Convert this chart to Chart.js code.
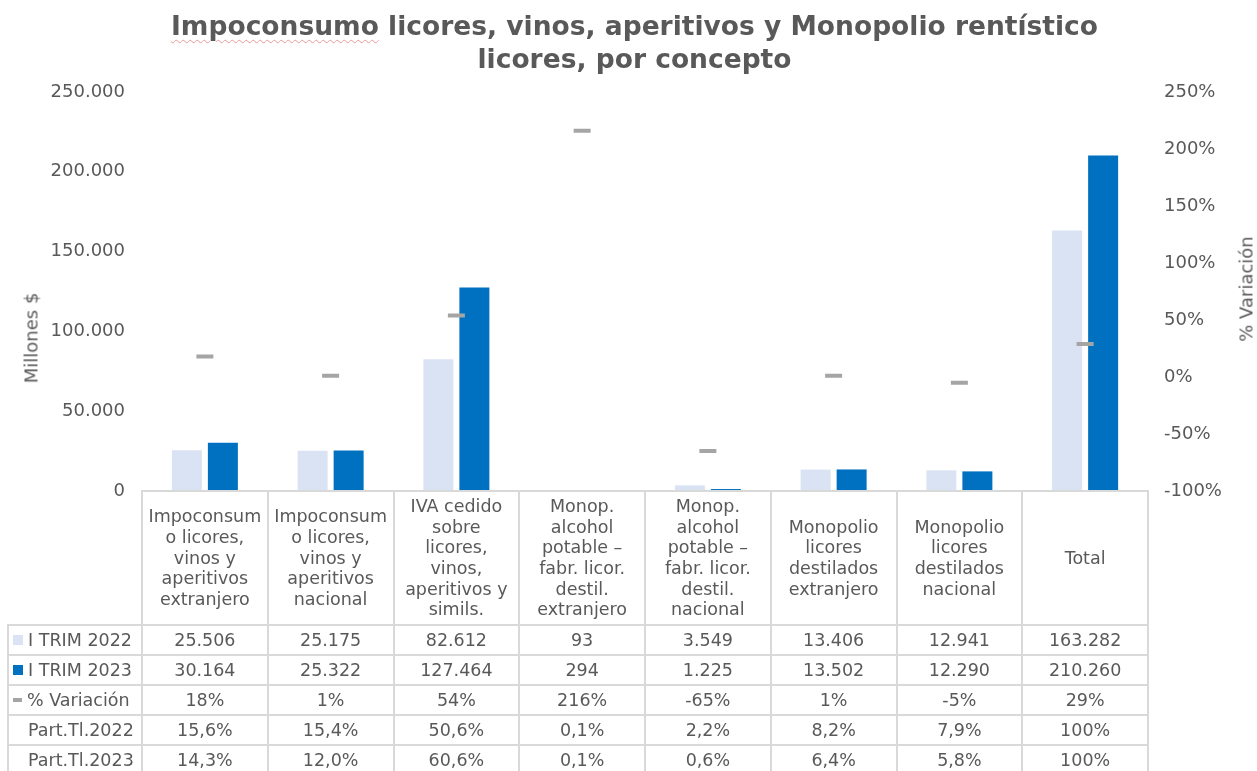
<!DOCTYPE html>
<html>
<head>
<meta charset="utf-8">
<script src="https://cdn.jsdelivr.net/npm/chart.js@4"></script>
<style>
  body { margin: 0; background: #fff; }
  #wrap { position: relative; width: 1257px; height: 771px; overflow: hidden; font-family: Verdana, "DejaVu Sans", sans-serif; color: #595959; }
  #chart { position: absolute; left: 0; top: 0; }
  #title { position: absolute; left: 6px; top: 9px; width: 1257px; text-align: center; font-weight: bold; font-size: 26.5px; line-height: 33px; }
  #title u { text-decoration: underline wavy #e89a9a; text-decoration-thickness: 1px; text-underline-offset: 4px; }
  .axt { position: absolute; font-size: 18px; white-space: nowrap; transform: translate(-50%, -50%) rotate(-90deg); }
  .cell { position: absolute; box-sizing: border-box; border: 2px solid #d9d9d9; display: flex; align-items: center; justify-content: center; text-align: center; font-size: 17.5px; line-height: 20.7px; }
  .lab { justify-content: flex-start; padding-left: 4px; }
  .mk { display: inline-block; margin-right: 5px; }
</style>
</head>
<body>
<div id="wrap">
  <canvas id="chart" width="1257" height="771"></canvas>
  <div id="title"><u>Impoconsumo</u> licores, vinos, aperitivos y Monopolio rentístico<br>licores, por concepto</div>
  <div class="axt" style="left:31px; top:338px;">Millones $</div>
  <div class="axt" style="left:1246px; top:289px;">% Variación</div>
</div>
<script>
const categories = [
    ["Impoconsum", "o licores,", "vinos y", "aperitivos", "extranjero"],
    ["Impoconsum", "o licores,", "vinos y", "aperitivos", "nacional"],
    ["IVA cedido", "sobre", "licores,", "vinos,", "aperitivos y", "simils."],
    ["Monop.", "alcohol", "potable –", "fabr. licor.", "destil.", "extranjero"],
    ["Monop.", "alcohol", "potable –", "fabr. licor.", "destil.", "nacional"],
    ["Monopolio", "licores", "destilados", "extranjero"],
    ["Monopolio", "licores", "destilados", "nacional"],
    ["Total"]
];
const trim2022 = [25506, 25175, 82612, 93, 3549, 13406, 12941, 163282];
const trim2023 = [30164, 25322, 127464, 294, 1225, 13502, 12290, 210260];
const variacion = [18, 1, 54, 216, -65, 1, -5, 29];
const part2022 = [15.6, 15.4, 50.6, 0.1, 2.2, 8.2, 7.9, 100];
const part2023 = [14.3, 12.0, 60.6, 0.1, 0.6, 6.4, 5.8, 100];

const color2022 = "#dae3f3";
const color2023 = "#0070c0";
const colorVar = "#a5a5a5";

function miles(v) {
    return String(Math.round(v)).replace(/\B(?=(\d{3})+(?!\d))/g, ".");
}
function pct1(v) {
    return v === 100 ? "100%" : v.toFixed(1).replace(".", ",") + "%";
}

const tickFont = { family: 'Verdana, "DejaVu Sans", sans-serif', size: 18 };

const chart = new Chart(document.getElementById("chart").getContext("2d"), {
    type: "bar",
    data: {
        labels: categories,
        datasets: [{
            label: "I TRIM 2022",
            data: trim2022,
            backgroundColor: color2022,
            yAxisID: "y",
            categoryPercentage: 0.5727,
            barPercentage: 0.833,
            order: 2
        }, {
            label: "I TRIM 2023",
            data: trim2023,
            backgroundColor: color2023,
            yAxisID: "y",
            categoryPercentage: 0.5727,
            barPercentage: 0.833,
            order: 2
        }, {
            type: "line",
            label: "% Variación",
            data: variacion,
            yAxisID: "y1",
            showLine: false,
            pointStyle: "line",
            pointRadius: 8.5,
            pointHoverRadius: 8.5,
            pointBorderWidth: 4,
            borderColor: colorVar,
            backgroundColor: colorVar,
            order: 0
        }]
    },
    options: {
        responsive: false,
        animation: false,
        layout: { padding: { top: 92, bottom: 280, left: 0, right: 0 } },
        plugins: {
            legend: { display: false },
            title: { display: false },
            tooltip: { enabled: false }
        },
        scales: {
            x: { display: false },
            y: {
                position: "left",
                min: 0,
                max: 250000,
                ticks: { stepSize: 50000, color: "#595959", font: tickFont, padding: 17, callback: v => miles(v) },
                grid: { display: false, drawTicks: false },
                border: { display: false },
                afterFit: s => { s.width = 142; }
            },
            y1: {
                position: "right",
                min: -100,
                max: 250,
                ticks: { stepSize: 50, color: "#595959", font: tickFont, padding: 16, callback: v => v + "%" },
                grid: { display: false, drawTicks: false },
                border: { display: false },
                afterFit: s => { s.width = 109; }
            }
        }
    }
});

// data table under the plot, aligned on the category scale
const wrap = document.getElementById("wrap");
const area = chart.chartArea;
const colW = (area.right - area.left) / categories.length;
const headTop = area.bottom;
const headH = 134;
const rowH = 30;
const labLeft = 8;

function cell(x, y, w, h, html, cls) {
    const d = document.createElement("div");
    d.className = "cell" + (cls ? " " + cls : "");
    d.style.left = (x - 1) + "px";
    d.style.top = (y - 1) + "px";
    d.style.width = (w + 2) + "px";
    d.style.height = (h + 2) + "px";
    d.innerHTML = html;
    wrap.appendChild(d);
}

categories.forEach((c, i) => {
    cell(area.left + i * colW, headTop, colW, headH, c.join("<br>"));
});

const rows = [
    { label: "I TRIM 2022", mk: `<span class="mk" style="width:10px;height:10px;background:${color2022}"></span>`, vals: trim2022.map(miles) },
    { label: "I TRIM 2023", mk: `<span class="mk" style="width:10px;height:10px;background:${color2023}"></span>`, vals: trim2023.map(miles) },
    { label: "% Variación", mk: `<span class="mk" style="width:9px;height:4px;background:${colorVar}"></span>`, vals: variacion.map(v => v + "%") },
    { label: "Part.Tl.2022", mk: `<span class="mk" style="width:10px;height:10px"></span>`, vals: part2022.map(pct1) },
    { label: "Part.Tl.2023", mk: `<span class="mk" style="width:10px;height:10px"></span>`, vals: part2023.map(pct1) }
];

rows.forEach((r, j) => {
    const y = headTop + headH + j * rowH;
    cell(labLeft, y, area.left - labLeft, rowH, r.mk + r.label, "lab");
    r.vals.forEach((v, i) => cell(area.left + i * colW, y, colW, rowH, v));
});
</script>
</body>
</html>
